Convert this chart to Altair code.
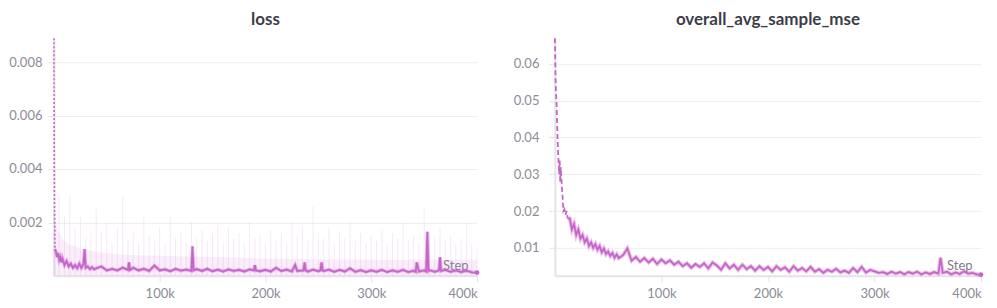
import altair as alt
import pandas as pd

FONT = "Lato"
LINE = "#c764c9"
FAINT = "#d98bdb"

# ---------------- loss panel ----------------
# (step in thousands, loss x 1e-4)
loss_points = [
    (0, 89), (0.5, 30), (1, 10), (2, 9), (3, 7), (4, 8.5), (5, 6), (6, 7), (7, 5), (8, 6.5),
    (10, 4), (12, 5.5), (14, 3.5), (16, 4.5), (18, 3), (20, 4), (22, 2.8), (24, 4.5), (26, 3), (28, 4.5),
    (29, 10), (30, 3), (32, 3.5), (34, 2.5), (36, 3.2), (38, 2.4), (40, 2.8), (45, 3.5), (50, 2), (55, 2.6),
    (60, 2), (65, 3), (70, 2.2), (71, 5), (72, 2.2), (75, 3), (80, 2), (85, 2.6), (90, 1.8), (95, 3.8),
    (100, 2), (105, 2.4), (110, 1.7), (115, 2.6), (120, 1.9), (125, 2.3), (130, 1.8), (131, 11), (132, 2), (135, 2.5),
    (140, 1.8), (145, 2.6), (150, 1.7), (155, 2.3), (160, 1.6), (165, 2.4), (170, 1.8), (175, 2.2), (180, 1.6), (185, 2.4),
    (189, 2), (190, 4), (191, 2), (195, 1.7), (200, 2.2), (205, 1.6), (210, 3), (215, 1.8), (220, 2.3), (225, 1.6),
    (228, 4), (230, 1.8), (236, 2), (237, 5), (238, 2), (240, 1.6), (245, 2.3), (250, 1.7), (252, 2), (253, 5),
    (254, 2), (255, 1.8), (260, 2.3), (265, 1.5), (270, 2.2), (275, 1.6), (280, 2.8), (285, 1.5), (290, 2.1), (295, 1.4),
    (300, 2), (305, 1.5), (310, 2.2), (315, 1.4), (320, 2), (325, 1.5), (330, 2.2), (335, 1.4), (340, 1.9), (342, 1.5),
    (343, 5), (345, 1.6), (350, 2), (352, 1.6), (353, 16.5), (354, 1.8), (355, 2.1), (360, 1.5), (364, 2), (365, 7),
    (366, 1.8), (370, 2.2), (375, 1.5), (380, 2), (385, 1.4), (390, 1.9), (395, 1.3), (400, 1.2),
]

# faint raw-value spikes (x 1e-4), one every 5k steps from 0 to 400k
band_hi_e4 = [
    25, 30, 22, 30, 18, 22, 14, 16, 25, 16,
    20, 12, 18, 30, 14, 17, 12, 22, 15, 13,
    18, 12, 22, 14, 16, 12, 20, 14, 17, 13,
    16, 19, 12, 18, 14, 16, 12, 20, 14, 15,
    12, 17, 13, 16, 12, 20, 15, 18, 13, 26,
    16, 14, 18, 12, 16, 14, 20, 13, 16, 12,
    15, 13, 17, 12, 16, 14, 20, 13, 15, 12,
    25, 16, 14, 18, 13, 15, 12, 14, 20, 12,
    10,
]
band_step = list(range(0, 400001, 5000))

# dense faint envelope (step in thousands, x 1e-4)
env_points = [(0, 22), (5, 16), (10, 13), (20, 11), (40, 9), (60, 8), (100, 7.5),
              (150, 7), (200, 6.5), (300, 6), (400, 6)]

# ---------------- overall_avg_sample_mse panel ----------------
# (step in thousands, mse x 1e-3)
mse_points = [
    (0, 67), (0.3, 62), (0.6, 56), (1, 52), (1.5, 50), (2, 45), (2.5, 40), (3, 36), (3.5, 33), (4, 30),
    (4.5, 34), (5, 28), (5.5, 32), (6, 29), (7, 25), (8, 20), (9, 20.5), (10, 19), (11, 20), (12, 18),
    (14, 18), (16, 15), (18, 16.5), (20, 13.5), (22, 15), (24, 12.5), (26, 13.5), (28, 11.5), (30, 12.5), (32, 10.5),
    (34, 11.5), (36, 10), (38, 11), (40, 9.5), (42, 10.5), (44, 8.8), (46, 9.8), (48, 8.3), (50, 9), (52, 7.8),
    (54, 8.6), (56, 7.3), (58, 8.2), (60, 7.2), (64, 8), (68, 9.8), (72, 6.5), (76, 7.5), (80, 6.2), (84, 7.2),
    (88, 6), (92, 7), (96, 5.6), (100, 6.8), (104, 5.8), (108, 6.6), (112, 5.4), (116, 6.2), (120, 5), (124, 5.8),
    (128, 4.6), (132, 5.6), (136, 4.8), (140, 5.8), (144, 4.4), (148, 6), (152, 5.2), (156, 4), (160, 5.8), (164, 4.4),
    (168, 5.4), (172, 4), (176, 5.4), (180, 4.2), (184, 5), (188, 3.8), (192, 5), (196, 4), (200, 4.8), (204, 3.6),
    (208, 5), (212, 4), (216, 4.7), (220, 3.5), (224, 5), (228, 3.8), (232, 4.5), (236, 3.6), (240, 4.8), (244, 3.5),
    (248, 4.2), (252, 3.2), (256, 4), (260, 3.5), (264, 4.3), (268, 3.3), (272, 3.8), (276, 3.2), (280, 4.5), (284, 3.4),
    (288, 4.8), (292, 3.3), (296, 4), (300, 3.6), (304, 3.2), (308, 3.4), (312, 2.9), (316, 3.5), (320, 3), (324, 3.4),
    (328, 2.8), (332, 3.4), (336, 3), (340, 3.5), (344, 2.8), (348, 3.3), (352, 2.9), (356, 3.4), (360, 3), (362, 7.3),
    (364, 3.2), (368, 3.5), (372, 2.8), (376, 3.3), (380, 2.9), (384, 3.6), (388, 3), (392, 3.2), (396, 2.8), (400, 2.7),
]

x_ticks = [100000, 200000, 300000, 400000]
loss_ticks = [0.002, 0.004, 0.006, 0.008]
mse_ticks = [0.01, 0.02, 0.03, 0.04, 0.05, 0.06]

loss_df = pd.DataFrame({"step": [p[0] * 1000 for p in loss_points],
                        "value": [p[1] * 1e-4 for p in loss_points]})
band_df = pd.DataFrame({"step": band_step, "hi": [v * 1e-4 for v in band_hi_e4]})
env_df = pd.DataFrame({"step": [p[0] * 1000 for p in env_points],
                       "env": [p[1] * 1e-4 for p in env_points]})
mse_df = pd.DataFrame({"step": [p[0] * 1000 for p in mse_points],
                       "value": [p[1] * 1e-3 for p in mse_points]})

W_L, W_R, H = 424, 427, 238


def x_enc(width):
    return alt.X("step:Q",
                 scale=alt.Scale(domain=[0, 400000], nice=False, zero=False),
                 axis=alt.Axis(values=x_ticks, labelExpr="format(datum.value / 1000, 'd') + 'k'",
                               title="Step", titleX=width - 9, titleY=-10, titleAlign="right",
                               titleBaseline="middle", grid=False, tickSize=6, labelPadding=6))


def y_enc(field, domain, ticks, fmt, extent, pad):
    return alt.Y(field,
                 scale=alt.Scale(domain=domain, nice=False, zero=False),
                 axis=alt.Axis(values=ticks, format=fmt, title=None, tickSize=6, labelPadding=pad,
                               minExtent=extent, maxExtent=extent, grid=True))


def yl(field):
    return y_enc(field, [0, 0.0089], loss_ticks, ".3f", 45, 6)


def yr(field):
    return y_enc(field, [0.0024, 0.067], mse_ticks, ".2f", 41, 10)


base_l = alt.Chart(loss_df)
rules = alt.Chart(band_df).mark_rule(color=FAINT, opacity=0.2, strokeWidth=1).encode(
    x=x_enc(W_L), y=yl("hi:Q"), y2=alt.datum(0))
env = alt.Chart(env_df).mark_area(color=FAINT, opacity=0.15, interpolate="monotone").encode(
    x=x_enc(W_L), y=yl("env:Q"), y2=alt.datum(0))
loss_halo = base_l.mark_line(color=LINE, strokeWidth=3.5, opacity=0.45, strokeJoin="miter").encode(
    x=x_enc(W_L), y=yl("value:Q")
).transform_filter(alt.datum.step >= 1000)
loss_dot = base_l.mark_line(color=LINE, strokeWidth=1.5, strokeDash=[2, 2]).encode(
    x=x_enc(W_L), y=yl("value:Q")
).transform_filter(alt.datum.step <= 1000)
loss_line = base_l.mark_line(color=LINE, strokeWidth=1.8).encode(
    x=x_enc(W_L), y=yl("value:Q")
).transform_filter(alt.datum.step >= 1000)
loss_end = base_l.mark_circle(color=LINE, size=22, opacity=1).encode(
    x=x_enc(W_L), y=yl("value:Q")
).transform_filter(alt.datum.step == 400000)

left = alt.layer(env, rules, loss_halo, loss_dot, loss_line, loss_end).properties(
    width=W_L, height=H, title="loss")

base_r = alt.Chart(mse_df)
mse_halo = base_r.mark_line(color=LINE, strokeWidth=4, opacity=0.4, strokeJoin="miter").encode(
    x=x_enc(W_R), y=yr("value:Q")
).transform_filter(alt.datum.step >= 12000)
mse_dash = base_r.mark_line(color=LINE, strokeWidth=1.8, strokeDash=[5, 3]).encode(
    x=x_enc(W_R), y=yr("value:Q")
).transform_filter(alt.datum.step <= 12000)
mse_line = base_r.mark_line(color=LINE, strokeWidth=1.8).encode(
    x=x_enc(W_R), y=yr("value:Q")
).transform_filter(alt.datum.step >= 12000)
mse_end = base_r.mark_circle(color=LINE, size=22, opacity=1).encode(
    x=x_enc(W_R), y=yr("value:Q")
).transform_filter(alt.datum.step == 400000)

right = alt.layer(mse_halo, mse_dash, mse_line, mse_end).properties(
    width=W_R, height=H, title="overall_avg_sample_mse")

chart = alt.hconcat(left, right, spacing=29).properties(
    padding={"top": 2, "left": 0, "right": 0, "bottom": 0}
).configure_view(
    stroke=None
).configure_axis(
    domainColor="#e3e3e8", domainWidth=2, tickColor="#e3e3e8", gridColor="#eeeef1",
    labelColor="#8b8b96", labelFont=FONT, labelFontSize=13,
    titleFont=FONT, titleFontSize=13, titleFontWeight="normal", titleColor="#7d7d88"
).configure_title(
    font=FONT, fontSize=17, fontWeight="bold", color="#3d3d48", anchor="middle", offset=6
)

chart.save("out.html", embed_options={"renderer": "svg", "actions": False})
